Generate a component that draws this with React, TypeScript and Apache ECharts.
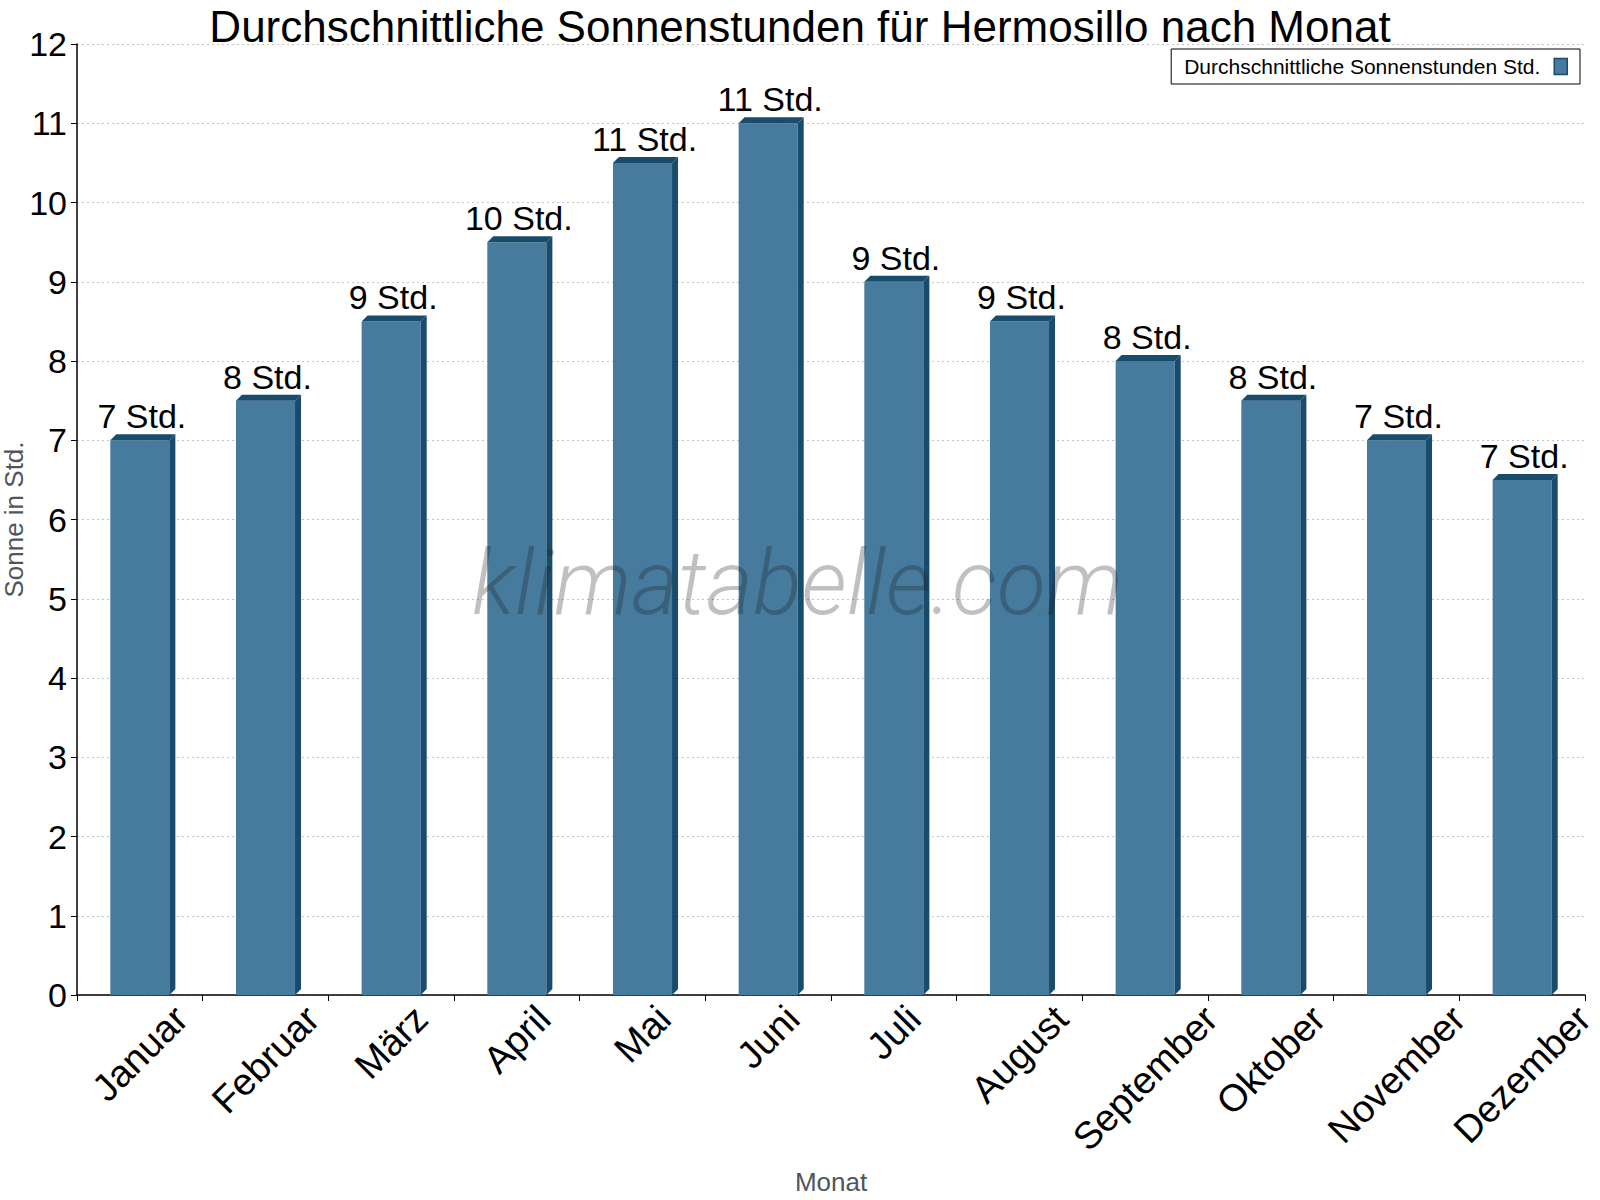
import React, { useEffect, useRef } from 'react';
import * as echarts from 'echarts';

const months = ['Januar', 'Februar', 'März', 'April', 'Mai', 'Juni', 'Juli', 'August', 'September', 'Oktober', 'November', 'Dezember'];
const sunHours = [7, 7.5, 8.5, 9.5, 10.5, 11, 9, 8.5, 8, 7.5, 7, 6.5];
const sunLabels = ['7 Std.', '8 Std.', '9 Std.', '10 Std.', '11 Std.', '11 Std.', '9 Std.', '9 Std.', '8 Std.', '8 Std.', '7 Std.', '7 Std.'];

const seriesName = 'Durchschnittliche Sonnenstunden Std.';
const FONT = '"Liberation Sans", Arial, Helvetica, sans-serif';
const FRONT = '#467b9d';
const DARK = '#184b6c';
const NAME_COLOR = '#50555c';
const LABEL_SIZE = 34;
const MONTH_SIZE = 38;

let measureCtx: CanvasRenderingContext2D | null = null;
function textWidth(text: string, size: number) {
  if (!measureCtx) measureCtx = document.createElement('canvas').getContext('2d');
  if (!measureCtx) return text.length * size * 0.55;
  measureCtx.font = `${size}px ${FONT}`;
  return measureCtx.measureText(text).width;
}

function renderBar(params: any, api: any) {
  const i = api.value(0);
  const v = api.value(1);
  const top = api.coord([i, v]);
  const base = api.coord([i, 0]);
  const band = api.size([1, 0])[0];
  const w = band * 0.47;
  const d = 6;
  const x0 = top[0] - w / 2;
  const x1 = top[0] + w / 2;
  return {
    type: 'group',
    children: [
      {
        type: 'rect',
        shape: { x: x0, y: top[1], width: w, height: base[1] - top[1] },
        style: { fill: FRONT },
      },
      {
        type: 'polygon',
        shape: { points: [[x1, top[1]], [x1 + d, top[1] - d], [x1 + d, base[1] - d], [x1, base[1]]] },
        style: { fill: DARK },
      },
      {
        type: 'polygon',
        shape: { points: [[x0, top[1]], [x0 + d, top[1] - d], [x1 + d, top[1] - d], [x1, top[1]]] },
        style: { fill: DARK },
      },
      {
        type: 'text',
        x: top[0] + 2,
        y: top[1] - d - 1,
        style: {
          text: sunLabels[i],
          fontSize: LABEL_SIZE,
          fontFamily: FONT,
          fill: '#000',
          align: 'center',
          verticalAlign: 'bottom',
        },
      },
    ],
  };
}

// month labels: rotated 45 deg, centred on the category, top edge kept just under the axis
function renderMonthLabel(params: any, api: any) {
  const i = api.value(0);
  const base = api.coord([i, 0]);
  const text = months[i];
  const w = textWidth(text, MONTH_SIZE);
  const cy = base[1] + 4 + (w + MONTH_SIZE) * 0.3536;
  return {
    type: 'text',
    x: base[0],
    y: cy,
    rotation: Math.PI / 4,
    style: {
      text,
      fontSize: MONTH_SIZE,
      fontFamily: FONT,
      fill: '#000',
      align: 'center',
      verticalAlign: 'middle',
    },
  };
}

export default function App() {
  const ref = useRef<HTMLDivElement | null>(null);

  useEffect(() => {
    document.body.style.margin = '0';
    if (!ref.current) return undefined;
    const chart = echarts.init(ref.current, undefined, { renderer: 'svg' });
    const barData = sunHours.map((v, i) => [i, v]);
    chart.setOption({
      animation: false,
      backgroundColor: '#fff',
      title: {
        text: 'Durchschnittliche Sonnenstunden für Hermosillo nach Monat',
        left: 'center',
        top: 7,
        padding: 0,
        textStyle: { fontSize: 44, lineHeight: 38, fontWeight: 'normal', color: '#000', fontFamily: FONT },
      },
      legend: {
        right: 20,
        top: 49,
        align: 'right',
        padding: [7, 12, 7, 13],
        itemWidth: 13,
        itemHeight: 16,
        itemGap: 14,
        backgroundColor: '#fff',
        borderColor: '#000',
        borderWidth: 1,
        borderRadius: 0,
        textStyle: { fontSize: 21, color: '#000', fontFamily: FONT, padding: [0, 9, 0, 0] },
        data: [{ name: seriesName, icon: 'rect', itemStyle: { color: FRONT, borderColor: DARK, borderWidth: 1.5 } }],
      },
      grid: { left: 77, right: 15, top: 44, bottom: 205, containLabel: false, outerBoundsMode: 'none' },
      xAxis: {
        type: 'category',
        data: months,
        name: 'Monat',
        nameLocation: 'middle',
        nameGap: 174,
        nameMoveOverlap: false,
        nameTextStyle: { fontSize: 26, color: NAME_COLOR, fontFamily: FONT },
        axisLine: { lineStyle: { color: '#000', width: 1.5 } },
        axisTick: { show: true, length: 6, lineStyle: { color: '#000' } },
        axisLabel: { show: false },
        splitLine: { show: false },
      },
      yAxis: {
        type: 'value',
        min: 0,
        max: 12,
        interval: 1,
        name: 'Sonne in Std.',
        nameLocation: 'middle',
        nameGap: 50,
        nameMoveOverlap: false,
        nameTextStyle: { fontSize: 26, color: NAME_COLOR, fontFamily: FONT },
        axisLine: { show: true, lineStyle: { color: '#000', width: 1.5 } },
        axisTick: { show: true, length: 6, lineStyle: { color: '#000' } },
        axisLabel: { fontSize: 34, color: '#000', margin: 10, fontFamily: FONT },
        splitLine: { show: true, lineStyle: { color: '#c4c4c4', type: [2, 3], width: 1 } },
      },
      graphic: [
        {
          type: 'text',
          left: 472,
          top: 538,
          z: 100,
          silent: true,
          style: {
            text: 'klimatabelle.com',
            fontSize: 90,
            fontStyle: 'italic',
            fontWeight: 300,
            fontFamily: 'Roboto, "Open Sans", sans-serif',
            fill: 'rgba(30,30,30,0.28)',
          },
        },
      ],
      series: [
        {
          name: seriesName,
          type: 'custom',
          renderItem: renderBar,
          data: barData,
          clip: false,
          itemStyle: { color: FRONT },
          encode: { x: 0, y: 1 },
        },
        {
          name: 'labels',
          type: 'custom',
          renderItem: renderMonthLabel,
          data: months.map((m, i) => [i, 0]),
          clip: false,
          silent: true,
          encode: { x: 0, y: 1 },
        },
      ],
    });
    return () => {
      chart.dispose();
    };
  }, []);

  return <div ref={ref} style={{ width: 1600, height: 1200 }} />;
}
